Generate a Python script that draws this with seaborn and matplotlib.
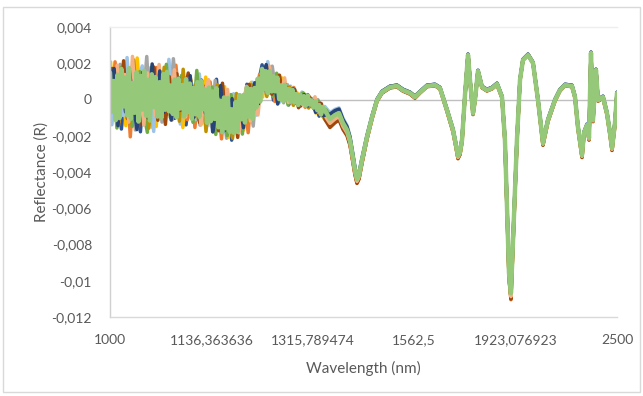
import numpy as np
import pandas as pd
import matplotlib
matplotlib.use("Agg")
import matplotlib.pyplot as plt
from matplotlib.patches import Rectangle
import seaborn as sns

# ---------------------------------------------------------------- data
# Spectra are stored against wavenumber (cm-1); the axis is labelled in nm.
tick_wavelength_nm = [1000, 1136.363636, 1315.789474, 1562.5, 1923.076923, 2500]
tick_labels = ["1000", "1136,363636", "1315,789474", "1562,5", "1923,076923", "2500"]

y_ticks = [-0.012, -0.010, -0.008, -0.006, -0.004, -0.002, 0.0, 0.002, 0.004]
y_tick_labels = ["-0,012", "-0,01", "-0,008", "-0,006", "-0,004", "-0,002",
                 "0", "0,002", "0,004"]

# short-wave (noisy) end, knots every 45 cm-1 from 10000 to 7480
noisy_wavenumber = np.arange(10000, 7479, -45)

# mean second-derivative level there (x1e-3) and the sample-to-sample half width
noisy_trend = [0.25, 0.25, 0.25, 0.25, 0.25, 0.25, 0.25, 0.22, 0.22, 0.19,
               0.19, 0.19, 0.22, 0.25, 0.28, 0.30, 0.25, 0.19, 0.14, 0.06,
               0.03, 0.03, 0.03, 0.00, -0.06, -0.19, -0.33, -0.44, -0.52, -0.69,
               -0.86, -0.97, -0.97, -0.86, -0.58, -0.41, -0.30, -0.14, 0.19, 0.52,
               0.97, 1.08, 0.97, 0.75, 0.58, 0.47, 0.36, 0.25, 0.14, 0.06,
               -0.03, -0.06, -0.08, -0.17, -0.36, -0.52, -0.75]
noisy_spread = [1.82, 1.82, 1.88, 1.88, 1.88, 1.93, 1.93, 1.88, 1.82, 1.82,
                1.77, 1.77, 1.71, 1.66, 1.66, 1.60, 1.54, 1.54, 1.49, 1.46,
                1.43, 1.43, 1.43, 1.41, 1.41, 1.43, 1.46, 1.49, 1.49, 1.46,
                1.43, 1.38, 1.27, 1.21, 1.21, 1.27, 1.27, 1.21, 1.05, 0.94,
                0.94, 0.94, 0.88, 0.88, 0.83, 0.72, 0.66, 0.55, 0.52, 0.47,
                0.44, 0.41, 0.39, 0.36, 0.39, 0.44, 0.44]

# long-wave end: absorption band structure
band_wavenumber = [7397, 7337, 7290, 7243, 7195, 7160, 7124, 7101, 7077, 7053,
                   7018, 6959, 6899, 6840, 6781, 6686, 6604, 6533, 6450, 6391,
                   6331, 6249, 6154, 6095, 6012, 5941, 5906, 5882, 5858, 5834,
                   5799, 5763, 5740, 5704, 5681, 5645, 5598, 5539, 5479, 5420,
                   5361, 5326, 5302, 5278, 5255, 5231, 5184, 5148, 5113, 5053,
                   4994, 4935, 4876, 4817, 4734, 4675, 4615, 4533, 4497, 4462,
                   4414, 4391, 4355, 4331, 4308, 4284, 4249, 4225, 4166, 4119,
                   4083, 4059, 4024, 4000]
band_trend = [-1.08, -0.86, -0.75, -1.30, -1.68, -2.23, -3.23, -3.89, -4.39, -4.17,
              -3.34, -2.07, -0.97, -0.03, 0.41, 0.69, 0.75, 0.52, 0.36, 0.14,
              0.41, 0.75, 0.80, 0.63, -0.58, -1.68, -2.51, -3.12, -2.90, -2.23,
              0.25, 2.46, 1.08, -0.75, -0.03, 1.57, 0.69, 0.52, 0.63, 0.86,
              0.14, -2.23, -5.93, -9.57, -10.68, -7.75, -2.23, 1.08, 2.18, 2.46,
              2.01, -0.03, -2.40, -1.13, -0.03, 0.52, 0.80, 0.75, 0.14, -1.52,
              -3.06, -1.85, -1.41, -2.12, 2.57, -1.13, 1.63, -0.03, 0.14, -0.75,
              -1.85, -2.68, -1.30, 0.36]
band_spread = [0.55, 0.50, 0.45, 0.40, 0.35, 0.30, 0.25, 0.20, 0.16, 0.14,
               0.12, 0.10, 0.10, 0.09, 0.09, 0.09, 0.09, 0.09, 0.09, 0.09] + [0.08] * 54

# per-sample colour, intensity gain, band-region offset (tenths of spread)
sample_colors = ["#2F5597", "#ED7D31", "#A5A5A5", "#FFC000", "#9DC3E6",
                 "#70AD47", "#BF9000", "#9E480E", "#F4B183", "#264478", "#96C87A"]
sample_gain = [1.005, 1.03, 0.99, 1.01, 0.98, 0.995, 1.02, 1.025, 1.015, 1.0, 1.0]
sample_offset = [4, -6, 2, -3, 6, 3, -5, -8, -4, 5, 0]
# relative noise level of each scan on the short-wave end
sample_noise_level = [1.0, 1.0, 1.0, 1.0, 1.0, 1.0, 1.0, 1.0, 1.0, 1.0, 0.85]
# sampling shift of each scan on the short-wave end (cm-1)
sample_shift = [0, 15, 30, 7, 22, 37, 11, 26, 41, 4]

# short-wave noise of the scans on the 45 cm-1 knots (tenths of spread)
noise_s1 = [9, -3, 4, -10, 2, 6, -7, 1, -11, 5,
            -2, 8, -9, 3, -6, 10, -4, -8, 2, 7,
            -10, 4, -3, 9, -7, 0, 6, -9, 11, -5,
            -2, 8, -10, 3, 5, -6, 9, -3, -8, 4,
            10, -7, 2, -9, 6, -4, 8, -10, 3, 5,
            -8, 1, 9, -6, 4, -9, 7]
noise_s2 = [-6, 10, -8, 3, 7, -12, 5, -2, 8, -7,
            4, -10, 9, -1, -5, 6, -9, 11, -3, 2,
            -8, 7, -11, 5, 0, -6, 9, -4, 3, -10,
            8, -5, 2, 7, -9, 4, -12, 6, -1, 9,
            -7, 3, 8, -10, 5, -2, 6, -8, 10, -4,
            2, -9, 7, -3, 5, -7, 4]
noise_s3 = [3, -7, 9, -4, 1, 8, -10, 6, -3, 12,
            -8, 2, 5, -9, 7, -6, 13, -2, -7, 4,
            9, -5, 1, -10, 6, 3, -8, 10, -4, 2,
            -9, 7, -3, 8, -6, 1, 5, -11, 9, -2,
            4, -8, 10, -5, 2, -9, 7, -3, 6, -10,
            8, -4, 3, -7, 9, -5, 2]
noise_s4 = [10, -5, 2, 8, -9, 4, -6, 11, -3, -8,
            6, 1, -10, 7, -4, 9, -7, 3, 5, -11,
            2, 8, -6, 4, -9, 10, -2, -7, 6, -3,
            11, -8, 4, -5, 7, -10, 3, 9, -6, 1,
            -9, 8, -4, 6, -7, 10, -5, 2, -8, 7,
            -3, 9, -6, 4, -10, 5, -2]
noise_s5 = [-9, 4, 7, -6, 11, -2, -8, 5, 9, -7,
            3, -11, 6, 2, -9, 12, -5, 4, -10, 8,
            -3, 6, -8, 10, -4, -9, 7, 1, -6, 9,
            -7, 4, 10, -3, -8, 6, -2, 9, -10, 5,
            -6, 11, -3, 7, -9, 4, -6, 9, -2, -7,
            10, -5, 3, -8, 6, -4, 8]
noise_s6 = [5, -10, 8, -2, 6, -9, 3, 7, -5, -11,
            9, -4, 2, -7, 10, -8, 5, -1, 8, -6,
            4, -9, 11, -5, 3, -2, 7, -10, 6, 1,
            -8, 9, -4, 5, -11, 7, -3, 2, -7, 10,
            -5, 4, -9, 8, -2, 6, -10, 5, -6, 3,
            9, -8, 2, -5, 7, -9, 4]
noise_s7 = [-4, 7, -9, 5, 2, -8, 10, -6, 3, 6,
            -10, 8, -2, -5, 9, -7, 1, 6, -9, 11,
            -6, 3, 5, -8, 7, -11, 4, -3, 9, -7,
            2, 6, -9, 10, -4, 3, -7, 8, -5, 2,
            7, -10, 5, -3, 9, -6, 1, 8, -9, 4,
            -5, 7, -10, 6, -2, 8, -6]
noise_s8 = [8, -2, -6, 10, -7, 3, 5, -9, 7, -4,
            1, 9, -8, 4, -10, 6, -3, 8, -5, 2,
            10, -7, 3, -9, 5, 7, -6, 2, -8, 11,
            -4, 1, 7, -10, 6, -5, 9, -2, -7, 8,
            -3, 6, -8, 2, 9, -7, 4, -5, 8, -11,
            6, -2, 5, -9, 3, 7, -8]
noise_s9 = [-5, 9, -2, 6, -8, 11, -4, 2, -9, 7,
            5, -6, 10, -3, 1, -8, 9, -5, 3, -7,
            8, -2, 6, -10, 4, 9, -5, 7, -1, -6,
            10, -3, 5, -8, 2, 9, -7, 4, -10, 6,
            -1, 8, -6, 3, -5, 10, -8, 7, -3, 2,
            -7, 5, -3, 9, -8, 2, -6]
noise_s10 = [2, 8, -9, 4, -5, 7, -2, -10, 6, 3,
             -7, 10, -4, 8, -6, 2, -9, 5, 7, -3,
             -5, 9, -7, 1, 8, -4, 6, -9, 3, 10,
             -6, 2, 8, -7, 4, -9, 6, -1, 7, -8,
             3, 9, -6, 5, -10, 2, 7, -4, 9, -6,
             1, 8, -7, 4, -9, 6, -3]
sample_noise = [noise_s1, noise_s2, noise_s3, noise_s4, noise_s5, noise_s6,
                noise_s7, noise_s8, noise_s9, noise_s10]

# the last (top-most) scan is recorded every 22.5 cm-1 on the short-wave end
top_wavenumber = np.arange(10000, 7479, -22.5)
top_noise = [8, -6, 5, -9, 7, -8, 9, -4, 6, -7,
             9, -8, 4, -6, 8, -9, 7, -5, 9, -7,
             6, -9, 8, -4, 7, -8, 5, -9, 8, -6,
             9, -7, 4, -8, 7, -9, 8, -5, 6, -8,
             9, -6, 7, -9, 5, -7, 8, -8, 9, -4,
             6, -9, 8, -7, 7, -5, 9, -8, 5, -9,
             8, -6, 9, -7, 4, -8, 7, -9, 8, -5,
             6, -8, 9, -6, 7, -9, 5, -7, 8, -8,
             9, -5, 6, -9, 8, -7, 7, -4, 9, -8,
             5, -9, 8, -6, 7, -8, 9, -7, 6, -9,
             8, -5, 7, -8, 9, -6, 4, -9, 8, -7,
             6, -8, 9]

# ---------------------------------------------------------------- long table
n_band = len(band_wavenumber)
rows = []
names = []


def add_scan(name, x_noisy, trend_noisy, spread_noisy, noise, k):
    x = np.concatenate([x_noisy, band_wavenumber]).astype(float)
    trend = np.concatenate([trend_noisy, band_trend])
    spread = np.concatenate([spread_noisy, band_spread])
    dev = np.concatenate([np.array(noise) * sample_noise_level[k],
                          [sample_offset[k]] * n_band]) / 10.0
    refl = (trend * sample_gain[k] + spread * dev) * 1e-3
    rows.append(pd.DataFrame({"wavenumber": x, "reflectance": refl, "sample": name}))
    names.append(name)


for k, noise in enumerate(sample_noise):
    add_scan(f"S{k + 1}", noisy_wavenumber - sample_shift[k],
             noisy_trend, noisy_spread, noise, k)

# each dense point takes the level of the 45 cm-1 knot it belongs to
knot_of_point = np.arange(len(top_wavenumber)) // 2
add_scan("S11", top_wavenumber,
         np.array(noisy_trend)[knot_of_point], np.array(noisy_spread)[knot_of_point],
         top_noise, 10)
spectra = pd.concat(rows, ignore_index=True)

# ---------------------------------------------------------------- figure
sns.set_theme(style="white")
plt.rcParams["font.family"] = ["Lato", "DejaVu Sans"]

fig = plt.figure(figsize=(6.43, 3.96), dpi=100)
fig.patches.append(Rectangle((3 / 643, 4 / 396), 637 / 643, 385 / 396,
                             transform=fig.transFigure, fill=False,
                             edgecolor="#D9D9D9", linewidth=1.0))
ax = fig.add_axes([110 / 643, 1 - 317 / 396, 507 / 643, 290 / 396])

ax.axhline(0, color="#BFBFBF", linewidth=1.0, zorder=1)

sns.lineplot(data=spectra, x="wavenumber", y="reflectance", hue="sample",
             hue_order=names, palette=dict(zip(names, sample_colors)),
             estimator=None, errorbar=None, legend=False, linewidth=2.5,
             solid_joinstyle="round", solid_capstyle="round", ax=ax, zorder=2)
ax.lines[-1].set_linewidth(3.2)

ax.set_xlim(10000, 4000)
ax.set_ylim(-0.012, 0.004)
ax.set_xticks([1e7 / w for w in tick_wavelength_nm])
ax.set_xticklabels(tick_labels)
ax.set_yticks(y_ticks)
ax.set_yticklabels(y_tick_labels)
ax.tick_params(axis="both", length=0, labelsize=10, colors="#595959")
ax.tick_params(axis="x", pad=12)
ax.tick_params(axis="y", pad=13)

ax.set_xlabel("Wavelength (nm)", fontsize=11, color="#595959", labelpad=11)
ax.set_ylabel("Reflectance (R)", fontsize=11, color="#595959", labelpad=2)

ax.spines["right"].set_visible(False)
ax.spines["left"].set_color("#D0D0D0")
ax.spines["bottom"].set_color("#D9D9D9")
ax.spines["top"].set_color("#EEEEEE")
for side in ("left", "bottom", "top"):
    ax.spines[side].set_linewidth(1.0)

fig.savefig("out.png", dpi=100)
